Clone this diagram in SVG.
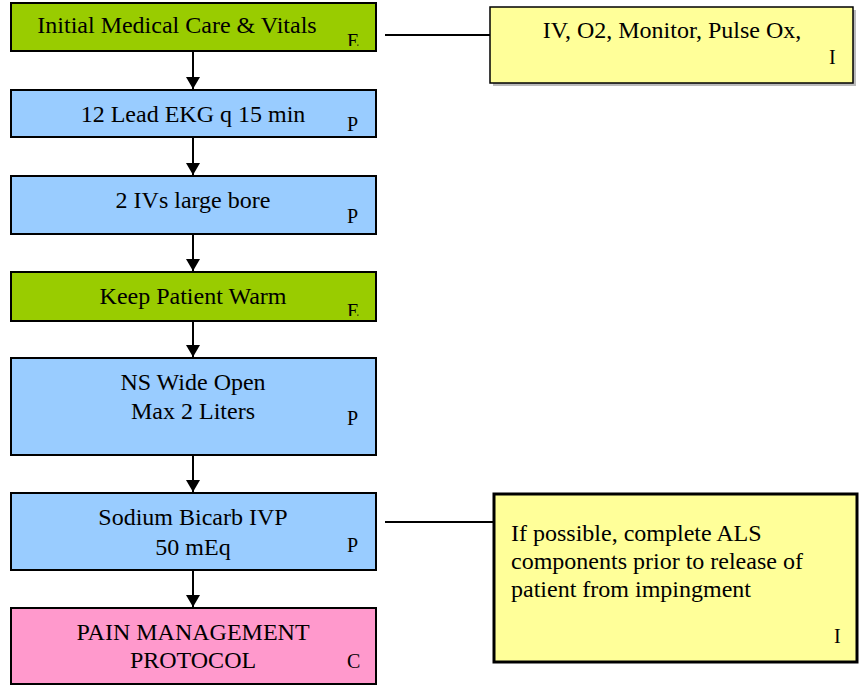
<svg xmlns="http://www.w3.org/2000/svg" width="860" height="685" viewBox="0 0 860 685">
  <style>
    .box { stroke: #000; stroke-width: 2; }
    .green { fill: #99CC00; }
    .blue { fill: #99CCFF; }
    .pink { fill: #FF99CC; }
    .yellow { fill: #FFFF99; }
    text { font-family: "Liberation Serif", "Times New Roman", serif; font-size: 24px; fill: #000; }
    .c { text-anchor: middle; }
    .tag { font-size: 20px; }
    .link { stroke: #000; stroke-width: 2; fill: none; }
  </style>
  <defs>
    <marker id="arrow" viewBox="0 0 12 14" refX="12" refY="7" markerWidth="12" markerHeight="14" markerUnits="userSpaceOnUse" orient="auto">
      <path d="M0,0 L12,7 L0,14 Z" fill="#000"/>
    </marker>
    <clipPath id="clipE1"><rect x="330" y="20" width="40" height="26"/></clipPath>
    <clipPath id="clipE4"><rect x="330" y="290" width="40" height="26"/></clipPath>
  </defs>

  <!-- connectors -->
  <g id="connectors">
    <line class="link" x1="193" y1="52" x2="193" y2="89" marker-end="url(#arrow)"/>
    <line class="link" x1="193" y1="138" x2="193" y2="175" marker-end="url(#arrow)"/>
    <line class="link" x1="193" y1="235" x2="193" y2="271" marker-end="url(#arrow)"/>
    <line class="link" x1="193" y1="322" x2="193" y2="357" marker-end="url(#arrow)"/>
    <line class="link" x1="193" y1="456" x2="193" y2="492" marker-end="url(#arrow)"/>
    <line class="link" x1="193" y1="571" x2="193" y2="607" marker-end="url(#arrow)"/>
    <line class="link" x1="385" y1="35" x2="490" y2="35" stroke-width="1.5"/>
    <line class="link" x1="385" y1="522" x2="493" y2="522" stroke-width="1.5"/>
  </g>

  <!-- left column -->
  <g id="initial-care">
    <rect class="box green" x="11" y="3" width="365" height="48"/>
    <text class="c" x="177" y="33">Initial Medical Care &amp; Vitals</text>
    <text class="tag" x="347" y="48" clip-path="url(#clipE1)">E</text>
  </g>
  <g id="ekg">
    <rect class="box blue" x="11" y="90" width="365" height="47"/>
    <text class="c" x="193" y="122">12 Lead EKG q 15 min</text>
    <text class="tag" x="347" y="131">P</text>
  </g>
  <g id="ivs">
    <rect class="box blue" x="11" y="176" width="365" height="58"/>
    <text class="c" x="193" y="208">2 IVs large bore</text>
    <text class="tag" x="347" y="223">P</text>
  </g>
  <g id="warm">
    <rect class="box green" x="11" y="272" width="365" height="49"/>
    <text class="c" x="193" y="304">Keep Patient Warm</text>
    <text class="tag" x="347" y="318" clip-path="url(#clipE4)">E</text>
  </g>
  <g id="ns">
    <rect class="box blue" x="11" y="358" width="365" height="97"/>
    <text class="c" x="193" y="390">NS Wide Open</text>
    <text class="c" x="193" y="419">Max 2 Liters</text>
    <text class="tag" x="347" y="425">P</text>
  </g>
  <g id="bicarb">
    <rect class="box blue" x="11" y="493" width="365" height="77"/>
    <text class="c" x="193" y="525">Sodium Bicarb IVP</text>
    <text class="c" x="193" y="555">50 mEq</text>
    <text class="tag" x="347" y="552">P</text>
  </g>
  <g id="pain">
    <rect class="box pink" x="11" y="608" width="365" height="76"/>
    <text class="c" x="193" y="640">PAIN MANAGEMENT</text>
    <text class="c" x="193" y="668">PROTOCOL</text>
    <text class="tag" x="347" y="668">C</text>
  </g>

  <!-- side notes -->
  <g id="monitor-note">
    <rect x="493" y="10" width="363" height="76" fill="#bbb"/>
    <rect class="yellow" x="490" y="7" width="363" height="76" stroke="#000" stroke-width="1.5"/>
    <text class="c" x="672" y="38">IV, O2, Monitor, Pulse Ox,</text>
    <text class="tag" x="829" y="64">I</text>
  </g>
  <g id="als-note">
    <rect class="yellow" x="494" y="494" width="363" height="168" stroke="#000" stroke-width="3"/>
    <text x="511" y="541">If possible, complete ALS</text>
    <text x="511" y="569">components prior to release of</text>
    <text x="511" y="597">patient from impingment</text>
    <text class="tag" x="834" y="643">I</text>
  </g>
</svg>
